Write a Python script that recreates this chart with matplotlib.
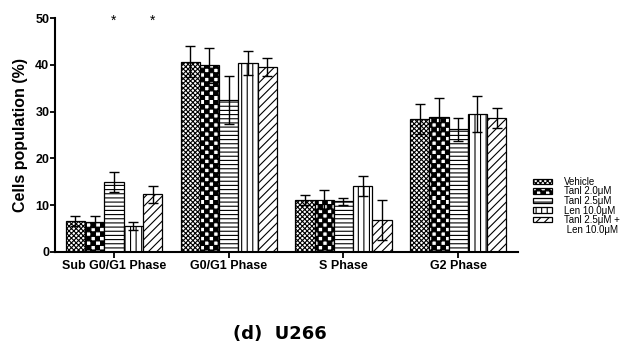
import numpy as np
import matplotlib
matplotlib.use("Agg")
import matplotlib.pyplot as plt
import matplotlib.hatch as mhatch
from matplotlib.path import Path
from matplotlib.patches import Patch

plt.rcParams['font.family'] = ['Liberation Sans', 'DejaVu Sans']
plt.rcParams['hatch.linewidth'] = 0.8


# checkerboard fill for the Tanl 2.0 bars, hooked onto the 'O' hatch letter
class Checker(mhatch.HatchPatternBase):
    def __init__(self, hatch, density):
        self.cells = hatch.count('O') * 11
        self.num_vertices = (self.cells * self.cells // 2) * 5

    def set_vertices_and_codes(self, vertices, codes):
        s = 1.0 / self.cells
        sq = np.array([[0, 0], [s, 0], [s, s], [0, s], [0, 0]])
        c = [Path.MOVETO, Path.LINETO, Path.LINETO, Path.LINETO, Path.CLOSEPOLY]
        k = 0
        for i in range(self.cells):
            for j in range(self.cells):
                if (i + j) % 2 == 0:
                    vertices[k:k + 5] = sq + [i * s, j * s]
                    codes[k:k + 5] = c
                    k += 5


mhatch._hatch_types = [t if t is not mhatch.LargeCircles else Checker
                       for t in mhatch._hatch_types]

# data
phases = ["Sub G0/G1 Phase", "G0/G1 Phase", "S Phase", "G2 Phase"]
treatments = ["Vehicle", "Tanl 2.0\u03bcM", "Tanl 2.5\u03bcM", "Len 10.0\u03bcM",
              "Tanl 2.5\u03bcM +"]
combo_label_cont = " Len 10.0\u03bcM"
vehicle = [6.6, 40.7, 11.1, 28.4]
tanl20 = [6.5, 39.9, 11.2, 28.8]
tanl25 = [14.9, 32.5, 10.8, 26.2]
len10 = [5.5, 40.4, 14.1, 29.5]
combo = [12.3, 39.5, 6.8, 28.6]
vehicle_err = [1.1, 3.4, 1.0, 3.2]
tanl20_err = [1.2, 3.7, 2.0, 4.0]
tanl25_err = [2.1, 5.1, 0.8, 2.4]
len10_err = [0.9, 2.6, 2.2, 3.9]
combo_err = [1.8, 1.9, 4.3, 2.2]
# significance marks: (phase index, treatment index)
stars = [(0, 2), (0, 4)]

means = [vehicle, tanl20, tanl25, len10, combo]
errs = [vehicle_err, tanl20_err, tanl25_err, len10_err, combo_err]
hatches = ["xxxxxxx", "OO", "----", "|||", "////"]

fig = plt.figure(figsize=(6.28, 3.47), dpi=100)
ax = fig.add_axes([0.0876, 0.274, 0.737, 0.674])

x = np.arange(len(phases))
w = 0.168
handles = []
for k in range(len(treatments)):
    pos = x + (k - 2) * w
    b = ax.bar(pos, means[k], w, color="white", edgecolor="black", linewidth=0.9,
               hatch=hatches[k], label=treatments[k], zorder=2)
    handles.append(b)
    ax.errorbar(pos, means[k], yerr=errs[k], fmt="none", ecolor="black",
                elinewidth=1.0, capsize=3.6, capthick=1.0, zorder=3)
# second line of the last legend label, with an empty handle
handles.append(Patch(facecolor="none", edgecolor="none", label=combo_label_cont))

for g, k in stars:
    ax.text(g + (k - 2) * w, 49.5, "*", ha="center", va="center", fontsize=10,
            clip_on=False)

ax.set_xlim(-0.514, 3.52)
ax.set_ylim(0, 50)
ax.set_yticks([0, 10, 20, 30, 40, 50])
ax.set_xticks(x)
ax.set_xticklabels(phases, fontweight="bold", fontsize=9)
for t in ax.get_yticklabels():
    t.set_fontweight("bold")
    t.set_fontsize(9)
ax.set_ylabel("Cells population (%)", fontweight="bold", fontsize=11.5, labelpad=5)
ax.spines["top"].set_visible(False)
ax.spines["right"].set_visible(False)
ax.spines["left"].set_linewidth(1.5)
ax.spines["bottom"].set_linewidth(1.5)
ax.tick_params(axis="y", width=1.3, length=3.6, pad=0.5)
ax.tick_params(axis="x", width=1.3, length=4, pad=2)

ax.legend(handles=handles, loc="upper left", bbox_to_anchor=(0.849, 0.49),
          bbox_transform=fig.transFigure, frameon=False, fontsize=7,
          handlelength=1.95, handleheight=0.45, handletextpad=1.2,
          labelspacing=-0.05, borderpad=0, borderaxespad=0)

fig.text(0.446, 0.022, "(d)  U266", ha="center", va="baseline", fontsize=13,
         fontweight="bold", family="DejaVu Sans")

fig.savefig("out.png", dpi=100)
